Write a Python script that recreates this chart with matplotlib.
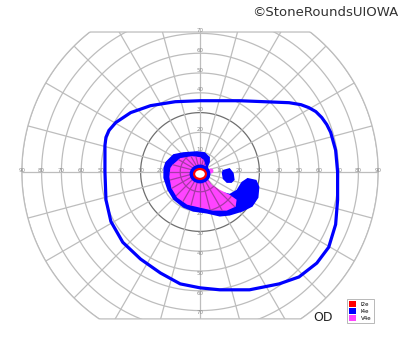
import numpy as np
import matplotlib
matplotlib.use("Agg")
import matplotlib.pyplot as plt
from matplotlib.patches import Polygon, Ellipse, Patch

# isopters, degrees of visual field (x = temporal/nasal, y = sup/inf)
i4e_outer_x = [0, 20, 45, 51, 55, 58.5, 61.5, 64, 66, 68.5, 69.5, 69.5, 68.5, 65, 59, 50, 40, 25,
               10, 0, -10, -20, -30, -39, -45, -47.5, -48, -48, -47.5, -46, -42.5, -35, -25, -12.5]
i4e_outer_y = [36, 36, 35, 34, 32.5, 30.5, 27.5, 24, 20, 11, 0, -14, -26.5, -38, -46, -53, -56.5,
               -59.5, -59.5, -58.5, -56.5, -51, -44, -35.5, -25, -14, 0, 13.5, 17.5, 21, 25, 30,
               33.5, 35.5]

# central scotoma, I4e (blue fill)
i4e_scot_x = [-17.5, -13.5, -8.5, -1.5, 2.5, 5, 5, 4, 5, 4, 6.5, 11, 15, 18.5, 21, 24, 28.5, 30,
              29.5, 26.5, 21.5, 15, 10, 3.5, -3.5, -8.5, -13.5, -16.5, -18.5, -18.5]
i4e_scot_y = [5, 9, 10, 10.5, 10, 7.5, 5, 2.5, -1.5, -4, -7.5, -10, -11, -9, -5, -3, -4, -7.5,
              -13, -17.5, -20, -22, -22.5, -21, -20, -18, -14, -9, -3, 2]

# blue island right of fixation
i4e_isl_x = [11.5, 15, 17, 17.5, 16, 13.5, 11.5, 11]
i4e_isl_y = [1, 2, -0.5, -4, -5.5, -5.5, -3.5, -0.5]

# V4e scotoma (magenta fill)
v4e_scot_x = [-14, -10, -4, 0, 2, 3.5, 3.5, 6, 10, 15, 18.5, 18, 13.5, 6.5, 0, -6.5, -11.5,
              -14.5, -15.5, -15]
v4e_scot_y = [3.5, 7, 8, 7.5, 6, 1, -3, -6.5, -9, -11.5, -14, -17.5, -19.5, -19.5, -18, -16.5,
              -13, -8, -2.5, 2]
v4e_dot = (5.5, 0.5)

# I2e central island and blue ring around it
i2e_center = (0, -1)
i2e_size = (6, 5)
ring_size = (10.5, 9.5)

rings = [10, 20, 30, 40, 50, 60, 70, 80, 90]
h_labels = [10, 20, 30, 40, 50, 60, 70, 80, 90]
v_labels = [10, 20, 30, 40, 50, 60, 70]
legend_names = ["I2e", "I4e", "V4e"]
legend_colors = ["#ff0000", "#0000ff", "#ff44ff"]

top_cut = 70.7
bottom_cut = -74.2
s = 1.98  # px per degree

fig = plt.figure(figsize=(4, 3.52), dpi=100)
ax = fig.add_axes([0, 0, 1, 1])
ax.set_xlim(-200 / s, 200 / s)
ax.set_ylim(-180 / s, 172 / s)
ax.set_aspect("equal")
ax.axis("off")

# clip region: 90 deg circle cut by top and bottom lines
t = np.linspace(0, 2 * np.pi, 721)
cx = 90 * np.cos(t)
cy = np.clip(90 * np.sin(t), bottom_cut, top_cut)
clip = Polygon(np.column_stack([cx, cy]), closed=True, transform=ax.transData,
               facecolor="none", edgecolor="none")
ax.add_patch(clip)


def draw_grid(clip_patch, col, dark, z):
    for r in rings:
        ln, = ax.plot(r * np.cos(t), r * np.sin(t), color=dark if r == 30 else col,
                      lw=0.9, zorder=z)
        ln.set_clip_path(clip_patch)
    for a in range(0, 360, 15):
        ln, = ax.plot([0, 90 * np.cos(np.radians(a))], [0, 90 * np.sin(np.radians(a))],
                      color=col, lw=0.9, zorder=z)
        ln.set_clip_path(clip_patch)


# grid
draw_grid(clip, "#bdbdbd", "#6e6e6e", 1)
ax.plot(cx, cy, color="#bdbdbd", lw=0.9, zorder=1)

lab = dict(fontsize=4, color="#8a8a8a", ha="center", va="center", zorder=1.5)
for v in h_labels:
    ax.text(-v, 0.6, str(v), **lab)
    ax.text(v, 0.6, str(v), **lab)
for v in v_labels:
    ax.text(0, v + 1.5, str(v), **lab)
    ax.text(0, -v - 1.2, str(v), **lab)

# scotomas
ax.fill(i4e_scot_x, i4e_scot_y, color="#0000ff", lw=0, zorder=2)
ax.fill(i4e_isl_x, i4e_isl_y, color="#0000ff", lw=0, zorder=2)
mag = ax.fill(v4e_scot_x, v4e_scot_y, color="#ff44ff", lw=0, zorder=2.1)[0]
draw_grid(mag, "#a63aa6", "#8a2a8a", 2.15)
ax.add_patch(Ellipse(v4e_dot, 2.6, 2.6, color="#ff44ff", lw=0, zorder=2.1))
ax.add_patch(Ellipse(i2e_center, *ring_size, color="#0000ff", lw=0, zorder=2.2))
ax.add_patch(Ellipse(i2e_center, *i2e_size, facecolor="white", edgecolor="#ff0000",
                     lw=1.6, zorder=2.3))

# outer I4e isopter
ax.fill(i4e_outer_x, i4e_outer_y, facecolor="none", edgecolor="#0000ff", lw=2.3,
        joinstyle="round", zorder=3)

fig.text(0.997, 0.965, "\u00a9StoneRoundsUIOWA", fontsize=9.5, color="#333333",
         ha="right", va="center")
fig.text(0.808, 0.098, "OD", fontsize=9, color="#222222", ha="center", va="center")

handles = [Patch(facecolor=c, edgecolor="none", label=n) for n, c in zip(legend_names, legend_colors)]
leg = fig.legend(handles=handles, loc="upper left", bbox_to_anchor=(0.86, 0.158),
                 fontsize=4, handlelength=1.3, handleheight=1.3, handletextpad=0.9,
                 borderpad=0.35, labelspacing=0.2, frameon=True, fancybox=False)
leg.get_frame().set_edgecolor("#999999")
leg.get_frame().set_linewidth(0.6)

fig.savefig("out.png", dpi=100)
